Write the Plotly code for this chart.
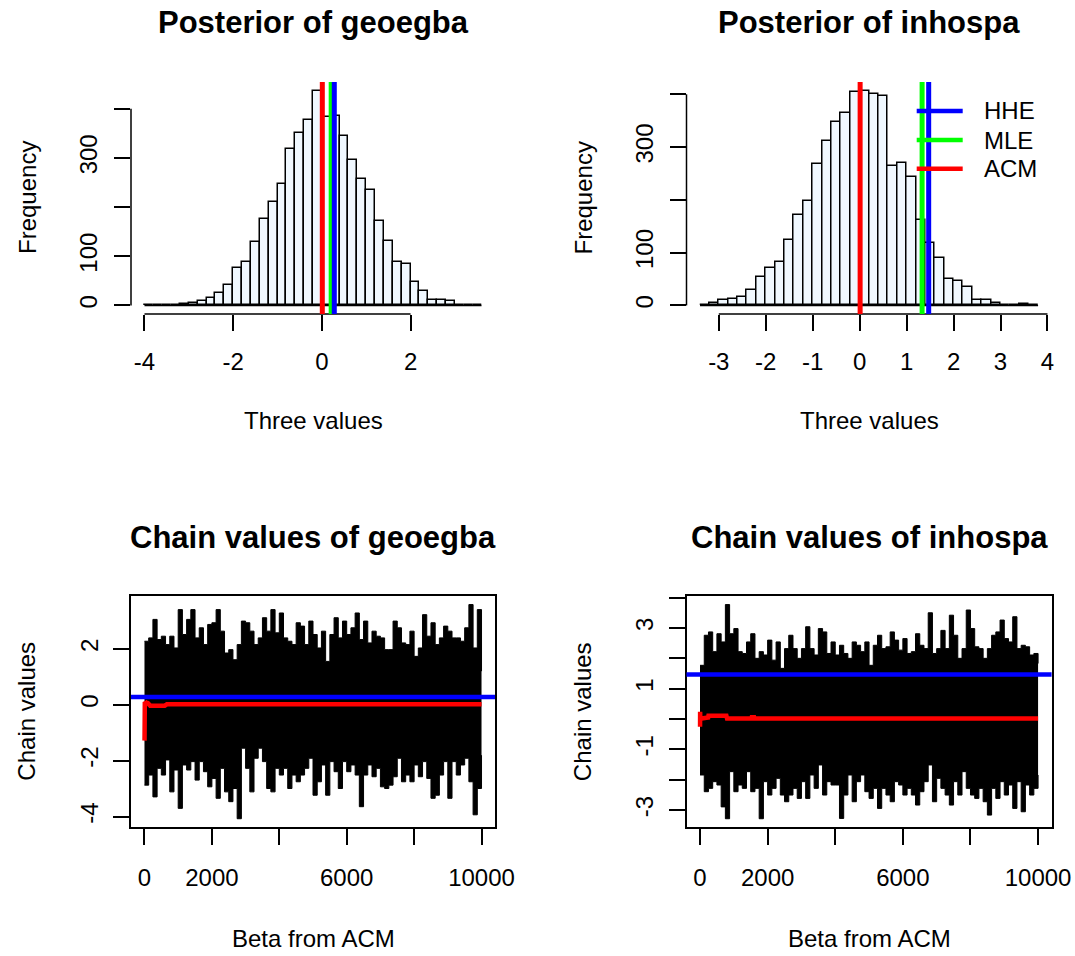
import plotly.graph_objects as go

W, H = 1075, 956
FONT = "Liberation Sans"

# ---------------- data ----------------
bin_width = 0.2
geo_bin_start = -4.0
geo_counts = [0, 0, 0, 0, 3, 4, 9, 16, 26, 41, 76, 88, 128, 176, 211, 246, 318, 350, 377, 437,
              384, 385, 345, 295, 258, 235, 171, 131, 88, 85, 48, 29, 12, 12, 9, 0, 0, 0]
inh_bin_start = -3.4
inh_counts = [1, 5, 10, 12, 16, 30, 53, 70, 83, 123, 171, 197, 267, 311, 348, 364, 404, 407,
              401, 396, 265, 270, 244, 161, 119, 90, 50, 46, 35, 11, 11, 4, 0, 0, 3, 0]

# estimates (HHE, MLE, ACM)
geo_est = {"HHE": 0.28, "MLE": 0.21, "ACM": 0.01}
inh_est = {"HHE": 1.47, "MLE": 1.33, "ACM": 0.01}
est_colors = {"HHE": "#0000FF", "MLE": "#00FF00", "ACM": "#FF0000"}

# chain envelope (read every 125 iterations)
chain_iter = list(range(0, 10001, 125))
geo_chain_top = [2.27, 2.39, 3.05, 2.33, 2.45, 2.15, 2.45, 2.03, 3.40, 2.51, 3.05, 3.40, 2.39, 2.75,
                 2.15, 2.87, 2.93, 3.40, 2.63, 1.85, 1.97, 1.61, 2.15, 2.99, 2.93, 2.63, 2.15, 2.39,
                 3.11, 2.63, 3.40, 2.57, 3.28, 2.39, 2.27, 2.15, 2.93, 2.81, 2.15, 2.99, 2.51,
                 2.03, 2.63, 1.55, 2.51, 3.11, 2.39, 2.99, 2.51, 2.75, 3.28, 2.33, 2.99, 2.21, 2.63,
                 2.45, 2.39, 1.97, 1.97, 2.99, 2.75, 2.21, 2.15, 2.63, 1.73, 2.03, 3.22, 2.45, 2.93,
                 2.15, 2.39, 2.81, 2.63, 2.39, 2.39, 2.27, 2.75, 3.58, 2.03, 3.40, 1.20]
geo_chain_bot = [-2.87, -2.51, -3.29, -2.27, -2.51, -1.97, -3.11, -2.33, -3.70, -2.15, -2.33, -2.03,
                 -2.69, -2.03, -2.39, -2.93, -2.63, -3.34, -2.27, -3.11, -3.46, -2.99, -4.07, -1.55,
                 -2.27, -3.11, -1.91, -1.55, -2.03, -2.99, -3.11, -2.27, -2.51, -2.27, -2.99, -2.51,
                 -2.75, -2.51, -2.27, -1.91, -3.23,
                 -2.75, -2.15, -3.23, -2.03, -2.39, -2.99, -2.03, -2.39, -2.15, -2.51, -3.64, -2.51,
                 -2.15, -2.57, -2.27, -2.93, -2.99, -2.87, -2.57, -1.91, -2.75, -2.51, -2.75, -2.15,
                 -2.57, -2.03, -2.63, -3.34, -3.23, -2.51, -2.03, -3.34, -2.03, -2.51, -2.15, -1.91,
                 -2.75, -3.93, -2.99, -1.80]
inh_chain_top = [1.77, 2.76, 2.87, 2.22, 2.81, 2.54, 3.77, 2.81, 2.98, 2.22, 2.16, 2.54, 2.81, 2.00,
                 2.22, 2.11, 2.60, 1.94, 2.54, 1.67, 2.32, 2.76, 2.32, 2.00, 2.32, 3.04, 2.32, 2.11,
                 2.98, 2.87, 2.16, 2.54, 2.11, 2.43, 2.16, 2.00, 2.54, 2.43, 2.22, 2.54, 1.77,
                 2.43, 2.76, 2.32, 2.38, 2.87, 2.60, 2.27, 2.65, 2.16, 2.22, 2.81, 2.43, 2.32, 3.50,
                 2.16, 2.32, 2.92, 2.32, 3.42, 2.76, 2.00, 2.32, 3.59, 2.98, 2.38, 2.32, 2.00, 2.32,
                 2.76, 2.87, 3.26, 2.65, 2.54, 3.37, 2.32, 2.43, 2.38, 2.11, 2.16, 1.83]
inh_chain_bot = [-1.84, -2.39, -2.28, -2.06, -2.17, -2.89, -3.28, -1.73, -2.39, -2.17, -2.28, -1.73,
                 -2.39, -2.28, -3.28, -2.06, -2.50, -2.28, -1.95, -2.50, -2.72, -2.50, -2.28, -2.61,
                 -2.06, -2.61, -1.84, -2.28, -1.51, -2.50, -2.06, -2.17, -2.17, -3.27, -2.50, -1.84,
                 -2.72, -2.06, -1.84, -2.39, -2.61,
                 -2.28, -2.94, -2.28, -2.50, -2.72, -2.06, -2.17, -2.50, -2.28, -2.50, -2.83, -2.39,
                 -2.06, -1.51, -2.72, -1.95, -2.28, -2.50, -2.83, -2.06, -2.50, -1.73, -2.28, -2.50,
                 -2.61, -2.28, -2.72, -3.16, -2.28, -2.61, -2.06, -2.50, -2.17, -2.94, -2.06, -3.05,
                 -2.17, -2.50, -2.28, -1.84]

# running mean of the chain (ACM)
geo_rm_iter = [1, 5, 10, 30, 100, 170, 600, 665, 10000]
geo_rm_val = [-1.28, -0.60, 0.10, 0.08, 0.06, -0.03, -0.03, 0.02, 0.02]
inh_rm_iter = [1, 3, 6, 10, 50, 240, 250, 780, 800, 1520, 1530, 1600, 1610, 10000]
inh_rm_val = [-0.25, 0.24, -0.20, 0.00, 0.02, 0.05, 0.11, 0.11, 0.02, 0.02, 0.06, 0.06, 0.02, 0.02]

# ticks
geo_hist_xticks = [-4, -2, 0, 2]
inh_hist_xticks = [-3, -2, -1, 0, 1, 2, 3, 4]
hist_yticks = [0, 100, 200, 300, 400]
hist_ylabels = ["0", "100", "", "300", ""]
chain_xticks = [0, 2000, 4000, 6000, 8000, 10000]
chain_xlabels = ["0", "2000", "", "6000", "", "10000"]
geo_chain_yticks = [-4, -2, 0, 2]
geo_chain_ylabels = ["-4", "-2", "0", "2"]
inh_chain_yticks = [-3, -2, -1, 0, 1, 2, 3, 4]
inh_chain_ylabels = ["-3", "", "-1", "", "1", "", "3", ""]

# ---------------- layout geometry (pixels) ----------------
LEFT_X = (131.0, 495.0)
RIGHT_X = (686.5, 1051.6)
TOP_Y = (82.0, 314.0)
BOT_Y = (596.0, 827.3)


def px(x):
    return x / W


def py(y):
    return 1 - y / H


def xdom(p):
    return [px(p[0]), px(p[1])]


def ydom(p):
    return [py(p[1]), py(p[0])]


fig = go.Figure()
shapes = []
annotations = []

tick_font = dict(family=FONT, size=24, color="black")
axis_common = dict(showgrid=False, zeroline=False, ticks="outside", ticklen=16, automargin=False,
                   tickwidth=1.5, tickcolor="black", tickfont=tick_font)


def add_hist(counts, start, xticks, xa, ya, est, xd, yd):
    n = len(counts)
    edges = [start + i * bin_width for i in range(n + 1)]
    centers = [e + bin_width / 2 for e in edges[:-1]]
    fig.add_trace(go.Bar(x=centers, y=counts, width=bin_width, xaxis=xa, yaxis=ya,
                         marker=dict(color="#F0F8FF", line=dict(color="black", width=1.5)),
                         showlegend=False, hoverinfo="x+y"))
    span = edges[-1] - edges[0]
    ymax = max(counts)
    axn = xa.replace("x", "xaxis")
    ayn = ya.replace("y", "yaxis")
    fig.layout[axn] = dict(domain=xdom(xd), anchor=ya, showline=False,
                           range=[edges[0] - 0.04 * span, edges[-1] + 0.04 * span],
                           tickvals=xticks, ticktext=[str(t) for t in xticks],
                           ticklabelstandoff=10, **axis_common)
    fig.layout[ayn] = dict(domain=ydom(yd), anchor=xa, showline=False,
                           range=[-0.04 * ymax, 1.04 * ymax],
                           tickvals=hist_yticks, ticktext=hist_ylabels, tickangle=-90,
                           ticklabelstandoff=7, **axis_common)
    # baseline for the histogram (R draws zero-height bins as a line)
    shapes.append(dict(type="line", xref=xa, yref=ya, x0=edges[0], x1=edges[-1], y0=0, y1=0,
                       line=dict(color="black", width=1.5), layer="above"))
    # R style axis lines spanning first-to-last tick
    shapes.append(dict(type="line", xref=xa, yref=ya + " domain", x0=xticks[0], x1=xticks[-1],
                       y0=0, y1=0, line=dict(color="black", width=1.5)))
    shapes.append(dict(type="line", xref=xa + " domain", yref=ya, x0=0, x1=0,
                       y0=hist_yticks[0], y1=hist_yticks[-1], line=dict(color="black", width=1.5)))
    # estimate lines
    for k in ["MLE", "HHE", "ACM"]:
        shapes.append(dict(type="line", xref=xa, yref=ya + " domain", x0=est[k], x1=est[k],
                           y0=0, y1=1, line=dict(color=est_colors[k], width=5), layer="above"))


def add_chain(top, bot, rm_it, rm_val, hhe, yticks, ylabels, xa, ya, xd, yd):
    fig.add_trace(go.Scatter(x=chain_iter, y=bot, mode="lines", line=dict(color="black", width=1, shape="hv"),
                             xaxis=xa, yaxis=ya, showlegend=False, hoverinfo="skip"))
    fig.add_trace(go.Scatter(x=chain_iter, y=top, mode="lines", line=dict(color="black", width=1, shape="hv"),
                             fill="tonexty", fillcolor="black",
                             xaxis=xa, yaxis=ya, showlegend=False, hoverinfo="skip"))
    fig.add_trace(go.Scatter(x=rm_it, y=rm_val, mode="lines", line=dict(color="#FF0000", width=4.5),
                             xaxis=xa, yaxis=ya, showlegend=False))
    lo, hi = min(bot), max(top)
    pad = 0.04 * (hi - lo)
    axn = xa.replace("x", "xaxis")
    ayn = ya.replace("y", "yaxis")
    fig.layout[axn] = dict(domain=xdom(xd), anchor=ya, showline=True, mirror=True,
                           linecolor="black", linewidth=1.5,
                           range=[chain_iter[0] - 0.04 * chain_iter[-1], chain_iter[-1] * 1.04],
                           tickvals=chain_xticks, ticktext=chain_xlabels,
                           ticklabelstandoff=12, **axis_common)
    fig.layout[ayn] = dict(domain=ydom(yd), anchor=xa, showline=True, mirror=True,
                           linecolor="black", linewidth=1.5,
                           range=[lo - pad, hi + pad],
                           tickvals=yticks, ticktext=ylabels, tickangle=-90,
                           ticklabelstandoff=6, **axis_common)
    shapes.append(dict(type="line", xref=xa + " domain", yref=ya, x0=0, x1=1, y0=hhe, y1=hhe,
                       line=dict(color="#0000FF", width=4.5), layer="above"))


add_hist(geo_counts, geo_bin_start, geo_hist_xticks, "x", "y", geo_est, LEFT_X, TOP_Y)
add_hist(inh_counts, inh_bin_start, inh_hist_xticks, "x2", "y2", inh_est, RIGHT_X, TOP_Y)
add_chain(geo_chain_top, geo_chain_bot, geo_rm_iter, geo_rm_val, geo_est["HHE"],
          geo_chain_yticks, geo_chain_ylabels, "x3", "y3", LEFT_X, BOT_Y)
add_chain(inh_chain_top, inh_chain_bot, inh_rm_iter, inh_rm_val, inh_est["HHE"],
          inh_chain_yticks, inh_chain_ylabels, "x4", "y4", RIGHT_X, BOT_Y)

# legend (top-right panel, no box)
legend_rows = [("HHE", 111.0), ("MLE", 140.0), ("ACM", 168.7)]
for name, yy in legend_rows:
    shapes.append(dict(type="line", xref="paper", yref="paper", x0=px(916.7), x1=px(962.7),
                       y0=py(yy), y1=py(yy), line=dict(color=est_colors[name], width=4.5)))
    annotations.append(dict(text=name, x=px(982.0), y=py(yy), xref="paper", yref="paper",
                            xanchor="left", yanchor="middle", showarrow=False,
                            font=dict(family=FONT, size=24, color="black")))


def label(text, x, y, size=24, angle=0, bold=False):
    annotations.append(dict(text=("<b>%s</b>" % text) if bold else text, x=px(x), y=py(y),
                            xref="paper", yref="paper", xanchor="center", yanchor="middle",
                            showarrow=False, textangle=angle,
                            font=dict(family=FONT, size=size, color="black")))


lc = (LEFT_X[0] + LEFT_X[1]) / 2
rc = (RIGHT_X[0] + RIGHT_X[1]) / 2
label("Posterior of geoegba", lc, 23, size=31, bold=True)
label("Posterior of inhospa", rc, 23, size=31, bold=True)
label("Chain values of geoegba", lc, 537, size=31, bold=True)
label("Chain values of inhospa", rc, 537, size=31, bold=True)
label("Three values", lc, 421)
label("Three values", rc, 421)
label("Beta from ACM", lc, 938)
label("Beta from ACM", rc, 938)
label("Frequency", LEFT_X[0] - 104, (TOP_Y[0] + TOP_Y[1]) / 2, angle=-90)
label("Frequency", RIGHT_X[0] - 104, (TOP_Y[0] + TOP_Y[1]) / 2, angle=-90)
label("Chain values", LEFT_X[0] - 104, (BOT_Y[0] + BOT_Y[1]) / 2, angle=-90)
label("Chain values", RIGHT_X[0] - 104, (BOT_Y[0] + BOT_Y[1]) / 2, angle=-90)

fig.update_layout(width=W, height=H, autosize=False, margin=dict(l=0, r=0, t=0, b=0, autoexpand=False),
                  paper_bgcolor="white", plot_bgcolor="white", shapes=shapes,
                  annotations=annotations, showlegend=False, bargap=0,
                  font=dict(family=FONT, color="black"))

fig.write_html("out.html", config={"displayModeBar": False},
               post_script="document.body.style.margin='0';document.body.style.overflow='hidden';")
